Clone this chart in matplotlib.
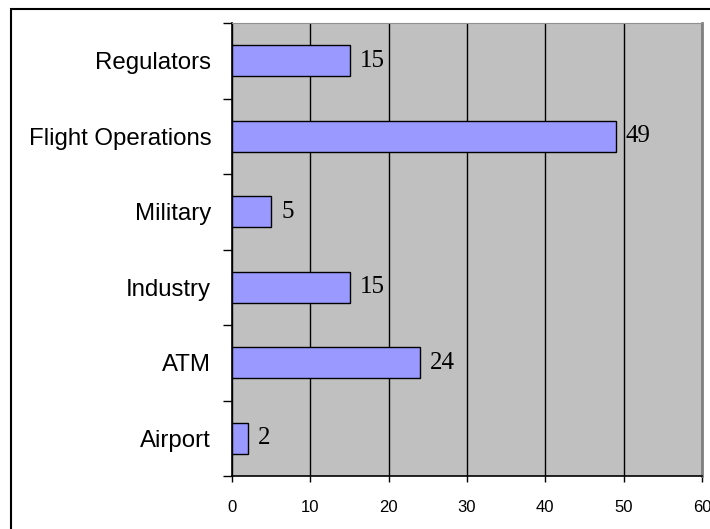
import numpy as np
import matplotlib
matplotlib.use('Agg')
import matplotlib.pyplot as plt
from matplotlib.patches import Rectangle

# data, bottom to top as drawn
categories = ['Airport', 'ATM', 'Industry', 'Military', 'Flight Operations', 'Regulators']
values = [2, 24, 15, 5, 49, 15]
x_ticks = [0, 10, 20, 30, 40, 50, 60]

fig = plt.figure(figsize=(7.1, 5.29), dpi=100)
fig.set_facecolor('white')

# outer frame (right/bottom edges fall outside the image)
fig.patches.append(Rectangle((11 / 710, -0.1), 1.2, 1 - 9 / 529 + 0.1,
                             transform=fig.transFigure, fill=False,
                             edgecolor='black', linewidth=1.5))

ax = fig.add_axes([232 / 710, 1 - 476 / 529, 470 / 710, 453 / 529])
ax.set_facecolor('#c0c0c0')

y = np.arange(len(categories))
ax.barh(y, values, height=0.41, color='#9999ff', edgecolor='black',
        linewidth=1, zorder=3)

for yi, v in zip(y, values):
    ax.annotate(str(v), (v, yi), xytext=(10, 0), textcoords='offset pixels',
                va='center', ha='left', fontsize=18,
                family='Liberation Serif', color='black', zorder=4)

ax.set_xlim(0, 60)
ax.set_ylim(-0.5, len(categories) - 0.5)
ax.set_xticks(x_ticks)
ax.set_xticklabels([str(t) for t in x_ticks], fontsize=12,
                   family='Liberation Sans')
ax.tick_params(axis='x', direction='out', length=4.3, width=1, pad=13)

# tick marks between categories, labels at category centres
ax.set_yticks(np.arange(-0.5, len(categories), 1.0))
ax.set_yticklabels([])
ax.tick_params(axis='y', which='major', direction='out', length=6.5, width=1)
ax.set_yticks(y, minor=True)
ax.set_yticklabels(categories, minor=True, fontsize=17.3,
                   family='Liberation Sans')
ax.tick_params(axis='y', which='minor', length=0, pad=15)

ax.xaxis.grid(True, color='black', linewidth=1, zorder=1)
ax.set_axisbelow(True)

ax.spines['left'].set_color('black')
ax.spines['bottom'].set_color('black')
ax.spines['left'].set_linewidth(1.2)
ax.spines['bottom'].set_linewidth(1.2)
ax.spines['top'].set_color('#909090')
ax.spines['right'].set_color('#808080')
ax.spines['right'].set_linewidth(2)

fig.savefig('out.png', dpi=100)
